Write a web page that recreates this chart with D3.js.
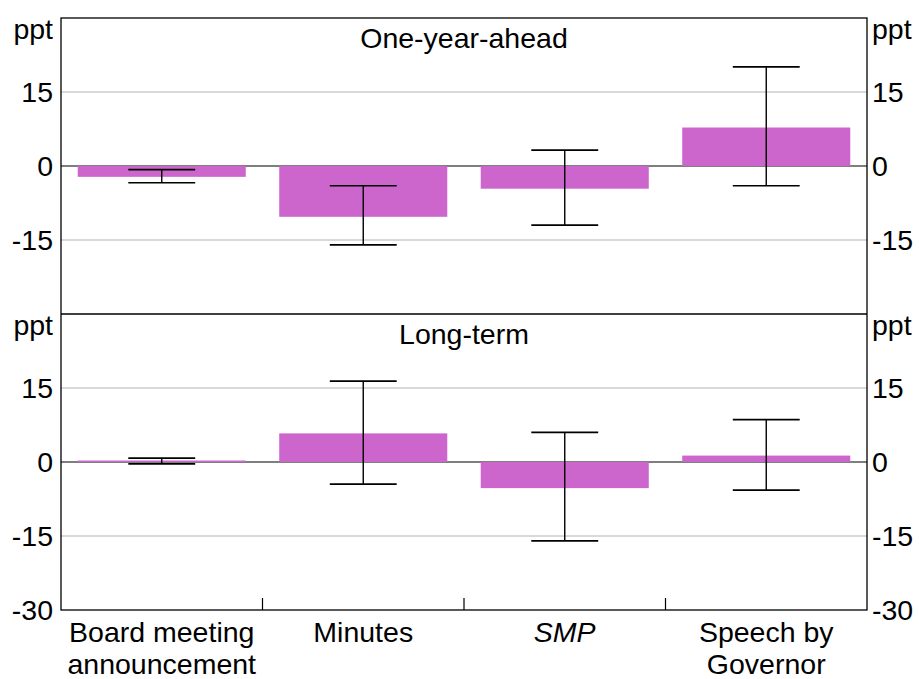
<!DOCTYPE html>
<html>
<head>
<meta charset="utf-8">
<script src="https://cdn.jsdelivr.net/npm/d3@7"></script>
<style>
  body { margin: 0; background: #fff; }
  text { font-family: "Liberation Sans", Arial, sans-serif; fill: #000; }
</style>
</head>
<body>
<div class="chart"></div>
<script>
// Chart data
var categories = ["Board meeting|announcement", "Minutes", "SMP", "Speech by|Governor"];
var panelTitles = ["One-year-ahead", "Long-term"];
var oneYearValues = [-2.2, -10.3, -4.6, 7.8];
var oneYearHigh = [-0.75, -4.0, 3.2, 20.1];
var oneYearLow = [-3.4, -16.0, -12.0, -4.0];
var longTermValues = [0.3, 5.8, -5.3, 1.3];
var longTermHigh = [0.8, 16.4, 6.0, 8.6];
var longTermLow = [-0.4, -4.5, -16.0, -5.7];
var yTicks = [-15, 0, 15];

var svgWidth = 919;
var svgHeight = 679;
var fontSize = "28.5px";

var margin = { top: 18, right: 52, bottom: 69, left: 61 };
var width = svgWidth - margin.left - margin.right;
var height = svgHeight - margin.top - margin.bottom;
var panelHeight = height / 2;

var svg = d3.select(".chart")
    .append("svg")
    .attr("width", svgWidth)
    .attr("height", svgHeight);

var chartGroup = svg.append("g")
    .attr("transform", `translate(${margin.left}, ${margin.top})`);

var xScale = d3.scaleBand()
    .domain(categories)
    .range([0, width])
    .paddingInner(0.166)
    .paddingOuter(0.083);

var xBand = d3.scaleBand().domain(categories).range([0, width]);

var panels = [
    { title: panelTitles[0], values: oneYearValues, high: oneYearHigh, low: oneYearLow },
    { title: panelTitles[1], values: longTermValues, high: longTermHigh, low: longTermLow }
];

panels.forEach(function(p, i) {
    var g = chartGroup.append("g")
        .attr("transform", `translate(0, ${i * panelHeight})`);

    var yScale = d3.scaleLinear().domain([-30, 30]).range([panelHeight, 0]);

    // gridlines
    g.selectAll(".grid")
        .data(yTicks.filter(d => d !== 0))
        .enter()
        .append("line")
        .attr("x1", 0)
        .attr("x2", width)
        .attr("y1", d => yScale(d))
        .attr("y2", d => yScale(d))
        .attr("stroke", "#b4b4b4")
        .attr("stroke-width", 1.2);

    // zero line
    g.append("line")
        .attr("x1", 0)
        .attr("x2", width)
        .attr("y1", yScale(0))
        .attr("y2", yScale(0))
        .attr("stroke", "#000")
        .attr("stroke-width", 1.2);

    // bars
    g.selectAll(".bar")
        .data(p.values)
        .enter()
        .append("rect")
        .attr("x", (d, j) => xScale(categories[j]))
        .attr("width", xScale.bandwidth())
        .attr("y", d => yScale(Math.max(0, d)))
        .attr("height", d => Math.max(1.5, Math.abs(yScale(d) - yScale(0))))
        .attr("fill", "#cc66cc");

    // error bars
    var capHalf = xBand.bandwidth() * 0.166;
    var err = g.selectAll(".err")
        .data(p.values)
        .enter()
        .append("g")
        .attr("stroke", "#000")
        .attr("stroke-width", 1.7);

    err.append("line")
        .attr("x1", (d, j) => xBand(categories[j]) + xBand.bandwidth() / 2)
        .attr("x2", (d, j) => xBand(categories[j]) + xBand.bandwidth() / 2)
        .attr("y1", (d, j) => yScale(p.high[j]))
        .attr("y2", (d, j) => yScale(p.low[j]))
        .attr("stroke-width", 1.4);

    ["high", "low"].forEach(function(k) {
        err.append("line")
            .attr("x1", (d, j) => xBand(categories[j]) + xBand.bandwidth() / 2 - capHalf)
            .attr("x2", (d, j) => xBand(categories[j]) + xBand.bandwidth() / 2 + capHalf)
            .attr("y1", (d, j) => yScale(p[k][j]))
            .attr("y2", (d, j) => yScale(p[k][j]));
    });

    // panel title
    g.append("text")
        .attr("x", width / 2)
        .attr("y", 30)
        .attr("text-anchor", "middle")
        .style("font-size", fontSize)
        .text(p.title);

    // axes labels left and right
    var labels = yTicks.slice();
    if (i === 1) labels = [-30].concat(labels);
    [{ x: -8, anchor: "end" }, { x: width + 5, anchor: "start" }].forEach(function(side) {
        g.selectAll(".lab")
            .data(labels)
            .enter()
            .append("text")
            .attr("x", side.x)
            .attr("y", d => yScale(d))
            .attr("dy", "0.36em")
            .attr("text-anchor", side.anchor)
            .style("font-size", fontSize)
            .text(d => d);

        g.append("text")
            .attr("x", side.x)
            .attr("y", 21)
            .attr("text-anchor", side.anchor)
            .style("font-size", fontSize)
            .text("ppt");
    });
});

// frame and panel divider
chartGroup.append("rect")
    .attr("x", 0)
    .attr("y", 0)
    .attr("width", width)
    .attr("height", height)
    .attr("fill", "none")
    .attr("stroke", "#000")
    .attr("stroke-width", 1.3);

chartGroup.append("line")
    .attr("x1", 0)
    .attr("x2", width)
    .attr("y1", panelHeight)
    .attr("y2", panelHeight)
    .attr("stroke", "#000")
    .attr("stroke-width", 1.3);

// category separator ticks
chartGroup.selectAll(".sep")
    .data(categories.slice(1))
    .enter()
    .append("line")
    .attr("x1", d => xBand(d))
    .attr("x2", d => xBand(d))
    .attr("y1", height - 12)
    .attr("y2", height)
    .attr("stroke", "#000")
    .attr("stroke-width", 1.2);

// category labels
var catLabels = chartGroup.selectAll(".cat")
    .data(categories)
    .enter()
    .append("text")
    .attr("x", d => xBand(d) + xBand.bandwidth() / 2)
    .attr("y", height + 32)
    .attr("text-anchor", "middle")
    .style("font-size", fontSize)
    .style("font-style", d => d === "SMP" ? "italic" : "normal");

catLabels.each(function(d) {
    var lines = d.split("|");
    var t = d3.select(this);
    lines.forEach(function(l, k) {
        t.append("tspan")
            .attr("x", xBand(d) + xBand.bandwidth() / 2)
            .attr("dy", k === 0 ? 0 : 32)
            .text(l);
    });
});
</script>
</body>
</html>
